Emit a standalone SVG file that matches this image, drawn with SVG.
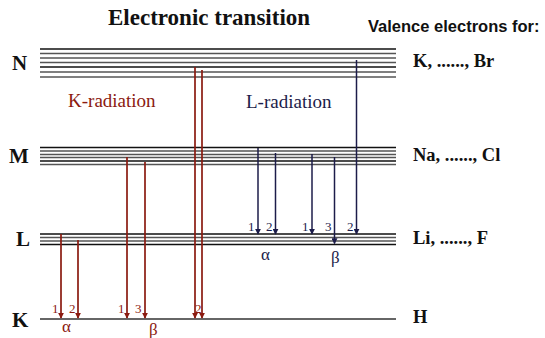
<svg xmlns="http://www.w3.org/2000/svg" width="545" height="338" viewBox="0 0 545 338">
<style>
text{font-family:"Liberation Serif","Times New Roman",serif;}
.sans{font-family:"Liberation Sans",Arial,sans-serif;}
.lv{font-weight:bold;font-size:21px;fill:#111;}
.el{font-weight:bold;font-size:18.5px;fill:#111;}
.dk{stroke:#111;stroke-width:1.6;}
.gr{stroke:#555;stroke-width:1.6;}
.red{stroke:#8b1a10;stroke-width:1.7;fill:none;}
.blu{stroke:#1c1c4a;stroke-width:1.5;fill:none;}
.rl{font-size:13px;fill:#8b1a10;}
.bl{font-size:13px;fill:#1c1c4a;}
</style>
<defs>
<marker id="ar" viewBox="0 0 8 8" refX="7" refY="4" markerWidth="6" markerHeight="6" orient="auto" markerUnits="userSpaceOnUse">
<path d="M0,0 L8,4 L0,8 Z" fill="#8b1a10"/>
</marker>
<marker id="ab" viewBox="0 0 8 8" refX="7" refY="4" markerWidth="6" markerHeight="6" orient="auto" markerUnits="userSpaceOnUse">
<path d="M0,0 L8,4 L0,8 Z" fill="#1c1c4a"/>
</marker>
</defs>
<text x="108" y="25" font-weight="bold" font-size="23" fill="#111">Electronic transition</text>
<text class="sans" x="368" y="32" font-weight="bold" font-size="16.5" fill="#111">Valence electrons for:</text>

<g id="level-N">
<text class="lv" x="12" y="70">N</text>
<line class="dk" x1="40" y1="49" x2="396" y2="49"/>
<line class="gr" x1="40" y1="53.5" x2="396" y2="53.5"/>
<line class="gr" x1="40" y1="58" x2="396" y2="58"/>
<line class="gr" x1="40" y1="62.5" x2="396" y2="62.5"/>
<line class="dk" x1="40" y1="67" x2="396" y2="67"/>
<line class="gr" x1="40" y1="72" x2="396" y2="72"/>
<line class="gr" x1="40" y1="77" x2="396" y2="77"/>
<text class="el" x="413" y="67">K, ......, Br</text>
</g>
<g id="level-M">
<text class="lv" x="9" y="163">M</text>
<line class="dk" x1="40" y1="147.5" x2="396" y2="147.5"/>
<line class="gr" x1="40" y1="151" x2="396" y2="151"/>
<line class="gr" x1="40" y1="154.5" x2="396" y2="154.5"/>
<line class="gr" x1="40" y1="157.5" x2="396" y2="157.5"/>
<line class="dk" x1="40" y1="161" x2="396" y2="161"/>
<line class="gr" x1="40" y1="164.5" x2="396" y2="164.5"/>
<text class="el" x="413" y="161">Na, ......, Cl</text>
</g>
<g id="level-L">
<text class="lv" x="16" y="246">L</text>
<line class="dk" x1="40" y1="234" x2="396" y2="234"/>
<line class="gr" x1="40" y1="237.5" x2="396" y2="237.5"/>
<line class="gr" x1="40" y1="241" x2="396" y2="241"/>
<line class="dk" x1="40" y1="244.5" x2="396" y2="244.5"/>
<text class="el" x="413" y="244">Li, ......, F</text>
</g>
<g id="level-K">
<text class="lv" x="12" y="327">K</text>
<line x1="40" y1="319" x2="396" y2="319" stroke="#666" stroke-width="2"/>
<text class="el" x="413" y="323">H</text>
</g>

<text x="68" y="107" font-size="19" fill="#8b1a10">K-radiation</text>
<text x="246" y="108" font-size="19" fill="#1c1c4a">L-radiation</text>

<g id="connectors">
<line class="red" x1="61" y1="234" x2="61" y2="318" marker-end="url(#ar)"/>
<line class="red" x1="78" y1="240" x2="78" y2="318" marker-end="url(#ar)"/>
<line class="red" x1="127" y1="157" x2="127" y2="318" marker-end="url(#ar)"/>
<line class="red" x1="145" y1="162" x2="145" y2="318" marker-end="url(#ar)"/>
<line class="red" x1="195" y1="67" x2="195" y2="318" marker-end="url(#ar)"/>
<line class="red" x1="202" y1="70" x2="202" y2="318" marker-end="url(#ar)"/>
<line class="blu" x1="258" y1="148" x2="258" y2="234" marker-end="url(#ab)"/>
<line class="blu" x1="275.5" y1="153" x2="275.5" y2="234" marker-end="url(#ab)"/>
<line class="blu" x1="312" y1="154" x2="312" y2="234" marker-end="url(#ab)"/>
<line class="blu" x1="334.5" y1="157" x2="334.5" y2="243.5" marker-end="url(#ab)"/>
<line class="blu" x1="356.5" y1="60" x2="356.5" y2="234" marker-end="url(#ab)"/>
</g>

<text class="rl" x="52" y="313">1</text>
<text class="rl" x="69" y="313">2</text>
<text x="62" y="332" font-size="17" fill="#8b1a10">α</text>
<text class="rl" x="118" y="313">1</text>
<text class="rl" x="135" y="313">3</text>
<text x="149" y="335" font-size="17" fill="#8b1a10">β</text>
<text class="rl" x="195" y="313">2</text>

<text class="bl" x="248" y="231">1</text>
<text class="bl" x="266" y="231">2</text>
<text x="261" y="260" font-size="17" fill="#1c1c4a">α</text>
<text class="bl" x="302" y="231">1</text>
<text class="bl" x="325" y="231">3</text>
<text class="bl" x="347" y="231">2</text>
<text x="331" y="263" font-size="17" fill="#1c1c4a">β</text>
</svg>
